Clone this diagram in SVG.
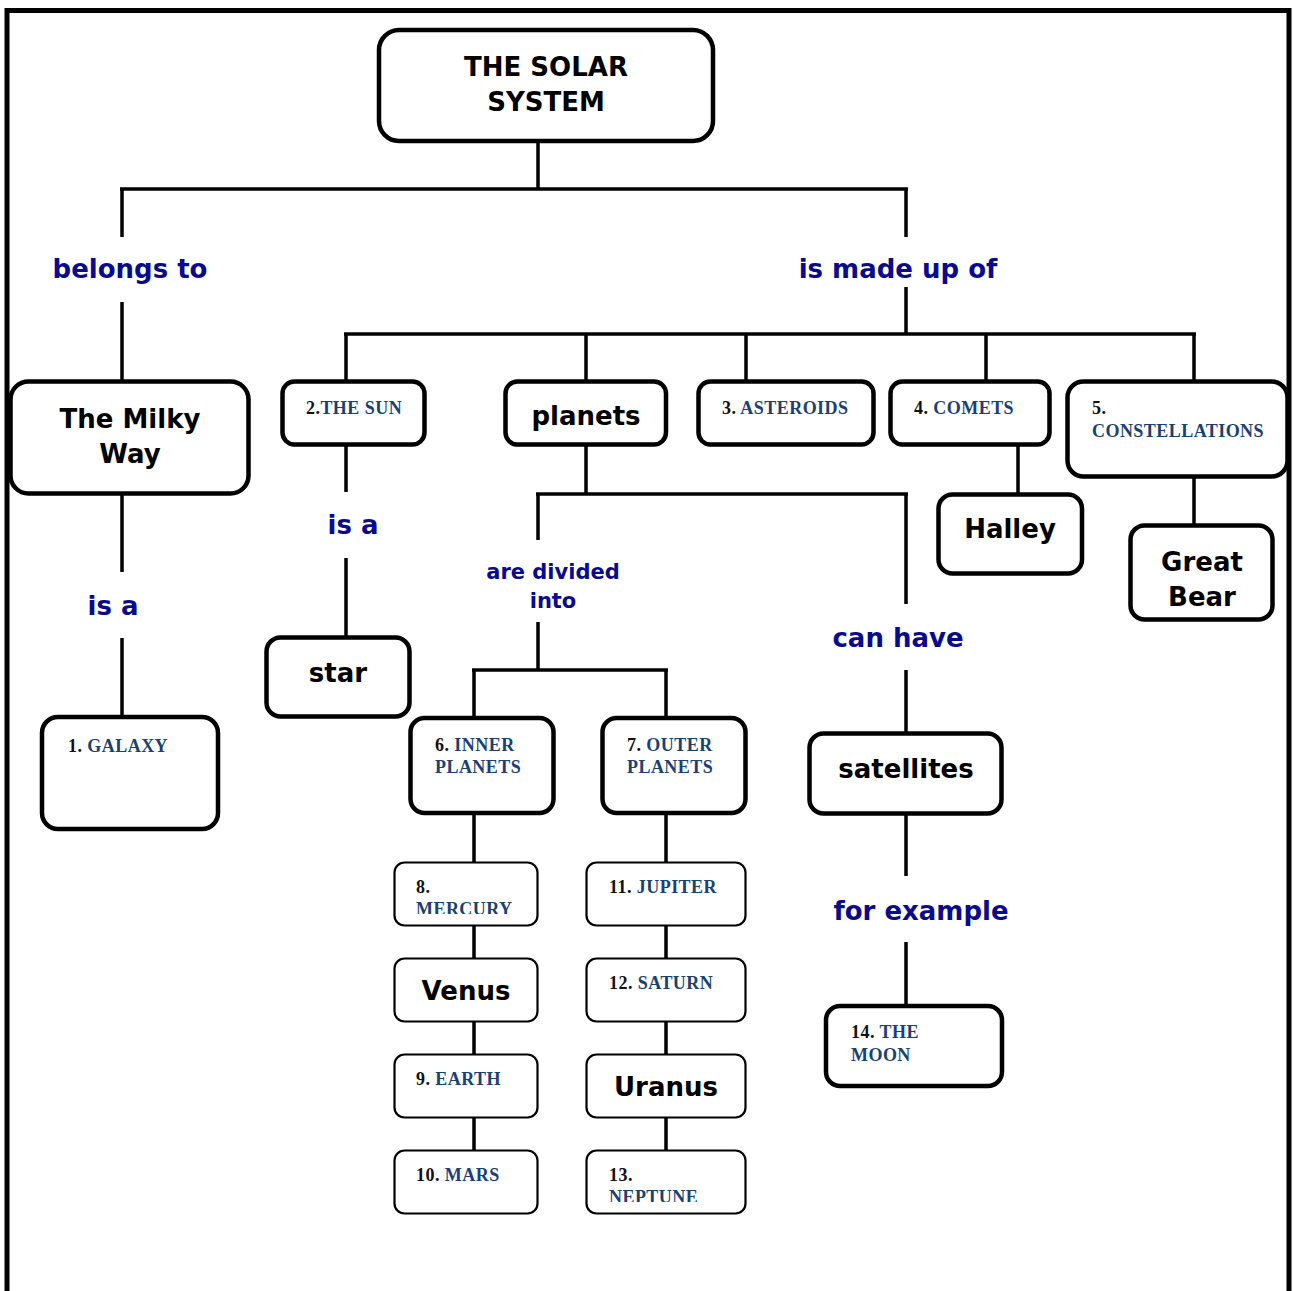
<svg xmlns="http://www.w3.org/2000/svg" width="1294" height="1291" viewBox="0 0 1294 1291">
<style>
.frame{fill:none;stroke:#000;stroke-width:5}
.box{fill:#fff;stroke:#000;stroke-width:4.5}
.sbox{fill:#fff;stroke:#000;stroke-width:2.2}
.con line{stroke:#000;stroke-width:3.5}
.big{font-family:"DejaVu Sans","Verdana",sans-serif;font-weight:bold;font-size:26px;fill:#000;text-anchor:middle}
.lbl{font-family:"DejaVu Sans","Verdana",sans-serif;font-weight:bold;font-size:26px;fill:#0a0a8c;text-anchor:middle}
.lbls{font-size:21px}
.num{font-family:"Liberation Serif","Times New Roman",serif;font-weight:bold;font-size:18px;fill:#111;letter-spacing:0.45px}
.num tspan.b,.b{fill:#1a4173}
</style>
<defs>
<clipPath id="clipMerc"><rect x="394" y="862" width="144" height="52"/></clipPath>
<clipPath id="clipNep"><rect x="586" y="1150" width="160" height="52"/></clipPath>
</defs>
<rect x="0" y="0" width="1294" height="1291" fill="#fff"/>
<rect class="frame" x="7" y="10.5" width="1282" height="1300"/>

<g id="connectors" class="con">
<line x1="538" y1="140" x2="538" y2="189.5"/>
<line x1="120" y1="189" x2="908" y2="189"/>
<line x1="122" y1="189" x2="122" y2="237"/>
<line x1="122" y1="302" x2="122" y2="381"/>
<line x1="906" y1="189" x2="906" y2="237"/>
<line x1="906" y1="287" x2="906" y2="334"/>
<line x1="344" y1="334" x2="1196" y2="334"/>
<line x1="346" y1="334" x2="346" y2="381"/>
<line x1="586" y1="334" x2="586" y2="381"/>
<line x1="746" y1="334" x2="746" y2="381"/>
<line x1="986" y1="334" x2="986" y2="381"/>
<line x1="1194" y1="334" x2="1194" y2="381"/>
<line x1="122" y1="494" x2="122" y2="572"/>
<line x1="122" y1="638" x2="122" y2="716"/>
<line x1="346" y1="446" x2="346" y2="492"/>
<line x1="346" y1="558" x2="346" y2="636"/>
<line x1="586" y1="446" x2="586" y2="494"/>
<line x1="536" y1="494" x2="908" y2="494"/>
<line x1="538" y1="494" x2="538" y2="540"/>
<line x1="538" y1="622" x2="538" y2="670"/>
<line x1="472" y1="670" x2="668" y2="670"/>
<line x1="474" y1="670" x2="474" y2="717"/>
<line x1="666" y1="670" x2="666" y2="717"/>
<line x1="906" y1="494" x2="906" y2="604"/>
<line x1="906" y1="670" x2="906" y2="733"/>
<line x1="906" y1="814" x2="906" y2="876"/>
<line x1="906" y1="942" x2="906" y2="1005"/>
<line x1="1018" y1="446" x2="1018" y2="494"/>
<line x1="1194" y1="478" x2="1194" y2="525"/>
<line x1="474" y1="814" x2="474" y2="862"/>
<line x1="474" y1="926" x2="474" y2="958"/>
<line x1="474" y1="1022" x2="474" y2="1054"/>
<line x1="474" y1="1118" x2="474" y2="1150"/>
<line x1="666" y1="814" x2="666" y2="862"/>
<line x1="666" y1="926" x2="666" y2="958"/>
<line x1="666" y1="1022" x2="666" y2="1054"/>
<line x1="666" y1="1118" x2="666" y2="1150"/>
</g>

<g id="labels">
<text class="lbl" x="130" y="278">belongs to</text>
<text class="lbl" x="898" y="278">is made up of</text>
<text class="lbl" x="113" y="615">is a</text>
<text class="lbl" x="353" y="534">is a</text>
<text class="lbl lbls" x="553" y="579">are divided</text>
<text class="lbl lbls" x="553" y="608">into</text>
<text class="lbl" x="898" y="647">can have</text>
<text class="lbl" x="921" y="920">for example</text>
</g>

<g id="n-solar"><rect class="box" x="379" y="30" width="334" height="111" rx="20"/>
<text class="big" x="546" y="76">THE SOLAR</text><text class="big" x="546" y="111">SYSTEM</text></g>

<g id="n-milkyway"><rect class="box" x="10.5" y="381.5" width="238" height="112" rx="18"/>
<text class="big" x="130" y="428">The Milky</text><text class="big" x="130" y="463">Way</text></g>

<g id="n-galaxy"><rect class="box" x="42" y="717" width="176" height="112" rx="16"/>
<text class="num" x="68" y="752">1. <tspan class="b">GALAXY</tspan></text></g>

<g id="n-sun"><rect class="box" x="282.5" y="381.5" width="142" height="63" rx="12"/>
<text class="num" x="306" y="414">2.<tspan class="b">THE SUN</tspan></text></g>

<g id="n-star"><rect class="box" x="266.5" y="637.5" width="143" height="79" rx="14"/>
<text class="big" x="338" y="682">star</text></g>

<g id="n-planets"><rect class="box" x="505.5" y="381.5" width="160.5" height="63" rx="12"/>
<text class="big" x="586" y="425">planets</text></g>

<g id="n-asteroids"><rect class="box" x="698.5" y="381.5" width="175" height="63" rx="12"/>
<text class="num" x="722" y="414">3. <tspan class="b">ASTEROIDS</tspan></text></g>

<g id="n-comets"><rect class="box" x="890.5" y="381.5" width="159" height="63" rx="12"/>
<text class="num" x="914" y="414">4. <tspan class="b">COMETS</tspan></text></g>

<g id="n-constellations"><rect class="box" x="1067.5" y="381.5" width="220" height="95" rx="16"/>
<text class="num" x="1092" y="414">5.</text><text class="num b" x="1092" y="437">CONSTELLATIONS</text></g>

<g id="n-halley"><rect class="box" x="938.5" y="494.5" width="143.5" height="79" rx="14"/>
<text class="big" x="1010" y="538">Halley</text></g>

<g id="n-greatbear"><rect class="box" x="1130.5" y="525.5" width="142" height="94" rx="14"/>
<text class="big" x="1202" y="571">Great</text><text class="big" x="1202" y="606">Bear</text></g>

<g id="n-inner"><rect class="box" x="410.5" y="718" width="143" height="95" rx="14"/>
<text class="num" x="435" y="751">6. <tspan class="b">INNER</tspan></text><text class="num b" x="435" y="773">PLANETS</text></g>

<g id="n-outer"><rect class="box" x="602.5" y="718" width="143" height="95" rx="14"/>
<text class="num" x="627" y="751">7. <tspan class="b">OUTER</tspan></text><text class="num b" x="627" y="773">PLANETS</text></g>

<g id="n-satellites"><rect class="box" x="809.5" y="733.5" width="192" height="80" rx="14"/>
<text class="big" x="906" y="778">satellites</text></g>

<g id="n-moon"><rect class="box" x="826" y="1006" width="176" height="80" rx="14"/>
<text class="num" x="851" y="1038">14. <tspan class="b">THE</tspan></text><text class="num b" x="851" y="1061">MOON</text></g>

<g id="n-mercury"><rect class="sbox" x="394.5" y="862.5" width="143" height="63" rx="10"/>
<text class="num" x="416" y="893">8.</text><text class="num b" x="416" y="915" clip-path="url(#clipMerc)">MERCURY</text></g>

<g id="n-venus"><rect class="sbox" x="394.5" y="958.5" width="143" height="63" rx="10"/>
<text class="big" x="466" y="1000">Venus</text></g>

<g id="n-earth"><rect class="sbox" x="394.5" y="1054.5" width="143" height="63" rx="10"/>
<text class="num" x="416" y="1085">9. <tspan class="b">EARTH</tspan></text></g>

<g id="n-mars"><rect class="sbox" x="394.5" y="1150.5" width="143" height="63" rx="10"/>
<text class="num" x="416" y="1181">10. <tspan class="b">MARS</tspan></text></g>

<g id="n-jupiter"><rect class="sbox" x="586.5" y="862.5" width="159" height="63" rx="10"/>
<text class="num" x="609" y="893">11. <tspan class="b">JUPITER</tspan></text></g>

<g id="n-saturn"><rect class="sbox" x="586.5" y="958.5" width="159" height="63" rx="10"/>
<text class="num" x="609" y="989">12. <tspan class="b">SATURN</tspan></text></g>

<g id="n-uranus"><rect class="sbox" x="586.5" y="1054.5" width="159" height="63" rx="10"/>
<text class="big" x="666" y="1096">Uranus</text></g>

<g id="n-neptune"><rect class="sbox" x="586.5" y="1150.5" width="159" height="63" rx="10"/>
<text class="num" x="609" y="1181">13.</text><text class="num b" x="609" y="1203" clip-path="url(#clipNep)">NEPTUNE</text></g>
</svg>
